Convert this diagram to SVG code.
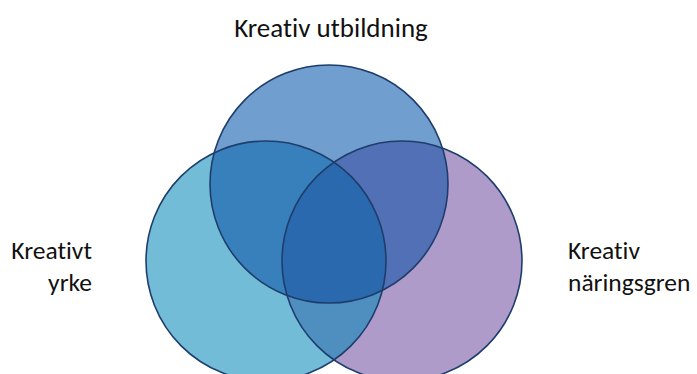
<svg xmlns="http://www.w3.org/2000/svg" width="697" height="374" viewBox="0 0 697 374">
  <style>
    .lbl { font-family: Carlito, "Liberation Sans", Arial, sans-serif; font-size: 27px; fill: #111111; font-variant-ligatures: none; }
    .side { font-size: 25.5px; }
    .edge { fill: none; stroke: #1e3d6c; stroke-width: 1.6; }
  </style>
  <defs>
    <clipPath id="cTop"><circle cx="329" cy="184" r="119"/></clipPath>
    <clipPath id="cLeft"><circle cx="266" cy="261" r="120"/></clipPath>
    <clipPath id="cRight"><circle cx="402" cy="261" r="120"/></clipPath>
  </defs>
  <rect width="697" height="374" fill="#ffffff"/>

  <g id="node-left">
    <circle cx="266" cy="261" r="120" fill="#73bcd7"/>
  </g>
  <g id="node-right">
    <circle cx="402" cy="261" r="120" fill="#ae9bca"/>
  </g>
  <g id="node-top">
    <circle cx="329" cy="184" r="119" fill="#709ecf"/>
  </g>

  <g id="overlaps">
    <g clip-path="url(#cTop)"><circle cx="266" cy="261" r="120" fill="#3880bc"/></g>
    <g clip-path="url(#cTop)"><circle cx="402" cy="261" r="120" fill="#5270b5"/></g>
    <g clip-path="url(#cLeft)"><circle cx="402" cy="261" r="120" fill="#4f8fbf"/></g>
    <g clip-path="url(#cLeft)"><g clip-path="url(#cRight)"><circle cx="329" cy="184" r="119" fill="#2a69ae"/></g></g>
  </g>

  <g id="outlines">
    <circle class="edge" cx="266" cy="261" r="120"/>
    <circle class="edge" cx="402" cy="261" r="120"/>
    <circle class="edge" cx="329" cy="184" r="119"/>
  </g>

  <g id="labels">
    <text class="lbl" x="331" y="37" text-anchor="middle">Kreativ utbildning</text>
    <text class="lbl side" x="92" y="259" text-anchor="end">Kreativt</text>
    <text class="lbl side" x="92" y="291" text-anchor="end">yrke</text>
    <text class="lbl side" x="568" y="259">Kreativ</text>
    <text class="lbl side" x="568" y="291">näringsgren</text>
  </g>
</svg>
